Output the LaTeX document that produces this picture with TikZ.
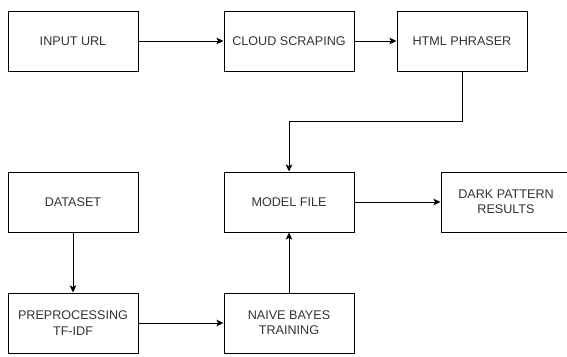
\documentclass[tikz,border=0pt]{standalone}
\usepackage{fontspec}
\setmainfont{Liberation Sans}
\usetikzlibrary{arrows.meta}
\definecolor{txt}{HTML}{333333}
\tikzset{
  box/.style={draw=black, line width=1pt, minimum width=130pt, minimum height=60pt, inner sep=0pt,
    align=center, text=txt, font=\fontsize{12.6}{15.3}\selectfont},
  conn/.style={draw=black, line width=1pt, -{Stealth[length=7pt,width=6.5pt,inset=1.5pt]}}
}
\begin{document}
\begin{tikzpicture}[x=1pt,y=-1pt]
\useasboundingbox (0,0) rectangle (567,356);
\clip (0,0) rectangle (567,356);
\node[box] (url) at (73,41) {INPUT URL};
\node[box] (cloud) at (289,41) {CLOUD SCRAPING};
\node[box] (html) at (462,41) {HTML PHRASER};
\node[box] (data) at (73,202) {DATASET};
\node[box] (model) at (289,202) {MODEL FILE};
\node[box] (dark) at (506,202) {DARK PATTERN\\RESULTS};
\node[box] (pre) at (73,323) {PREPROCESSING\\TF-IDF};
\node[box] (nb) at (289,323) {NAIVE BAYES\\TRAINING};
\coordinate (bend1) at (462,121);
\coordinate (bend2) at (289,121);
\draw[conn] (url) -- (cloud);
\draw[conn] (cloud) -- (html);
\draw[conn] (html.south) -- (bend1) -- (bend2) -- (model.north);
\draw[conn] (model) -- (dark);
\draw[conn] (data) -- (pre);
\draw[conn] (pre) -- (nb);
\draw[conn] (nb) -- (model);
\end{tikzpicture}
\end{document}
